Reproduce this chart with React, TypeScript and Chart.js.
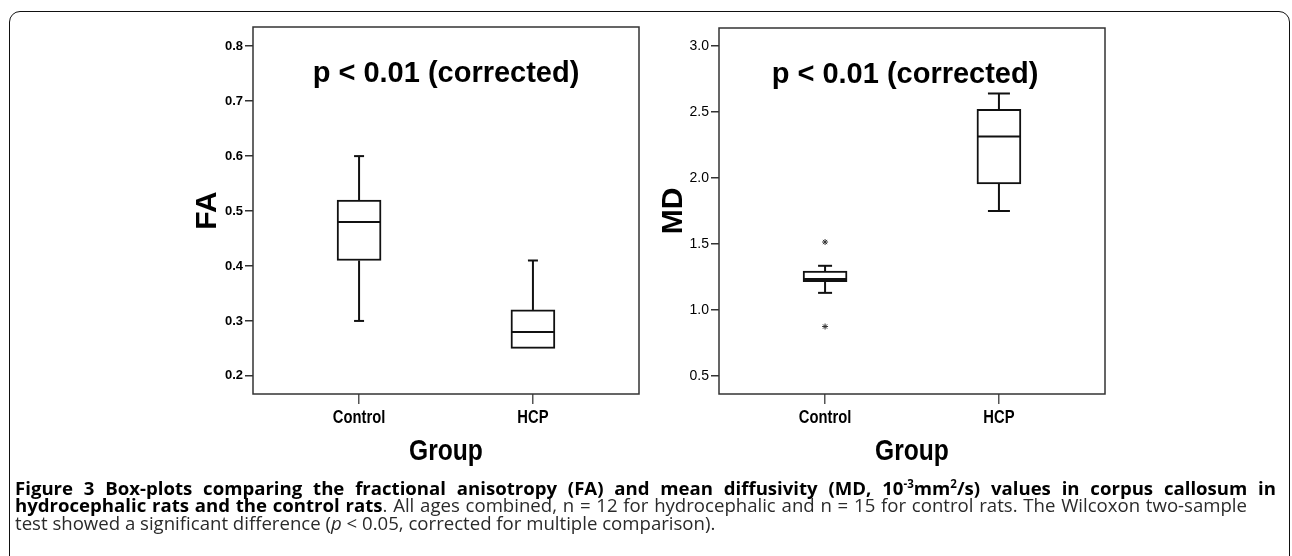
import React, { useEffect, useRef } from 'react';
import { Chart, registerables } from 'chart.js';

Chart.register(...registerables);

// ---------- data ----------
const groups = ['Control', 'HCP'];

// FA panel
const faMin = [0.30, 0.25];
const faQ1 = [0.41, 0.25];
const faMedian = [0.48, 0.28];
const faQ3 = [0.52, 0.32];
const faMax = [0.60, 0.41];
const faOutlierGroup: number[] = [];
const faOutlierValue: number[] = [];
const faTicks = [0.2, 0.3, 0.4, 0.5, 0.6, 0.7, 0.8];
const faTickLabels = ['0.2', '0.3', '0.4', '0.5', '0.6', '0.7', '0.8'];
const faRange = [0.167, 0.835];

// MD panel
const mdMin = [1.13, 1.75];
const mdQ1 = [1.215, 1.955];
const mdMedian = [1.235, 2.315];
const mdQ3 = [1.295, 2.52];
const mdMax = [1.335, 2.64];
const mdOutlierGroup = [0, 0];
const mdOutlierValue = [1.515, 0.875];
const mdTicks = [0.5, 1.0, 1.5, 2.0, 2.5, 3.0];
const mdTickLabels = ['0.5', '1.0', '1.5', '2.0', '2.5', '3.0'];
const mdRange = [0.364, 3.136];

const xRange = [-0.61, 1.61];
const noteText = 'p < 0.01 (corrected)';
const xTitle = 'Group';

const SANS = "'Liberation Sans', Arial, sans-serif";
const CONDENSE = 0.82;

type PanelCfg = {
  min: number[]; q1: number[]; median: number[]; q3: number[]; max: number[];
  outGroup: number[]; outValue: number[];
  ticks: number[]; tickLabels: string[]; range: number[];
  yTitle: string; tickFont: any; capWidth: number[]; padTop: number; noteDx: number;
};

function BoxPanel({ cfg, left, top }: { cfg: PanelCfg; left: number; top: number }) {
  const ref = useRef<HTMLCanvasElement>(null);
  useEffect(() => {
    if (!ref.current) return;
    const condensed = (ctx: any, text: string, x: number, y: number, font: string) => {
      ctx.save();
      ctx.translate(x, y);
      ctx.scale(CONDENSE, 1);
      ctx.font = font;
      ctx.fillStyle = '#000';
      ctx.textAlign = 'center';
      ctx.textBaseline = 'alphabetic';
      ctx.fillText(text, 0, 0);
      ctx.restore();
    };
    const extras = {
      id: 'boxExtras',
      afterDatasetsDraw(chart: any) {
        const { ctx, chartArea, scales } = chart;
        const x = scales.x, y = scales.y;
        const meta = chart.getDatasetMeta(0);
        ctx.save();
        ctx.strokeStyle = '#111';
        ctx.lineWidth = 2;
        ctx.lineCap = 'butt';
        const line = (x1: number, y1: number, x2: number, y2: number) => {
          ctx.beginPath(); ctx.moveTo(x1, y1); ctx.lineTo(x2, y2); ctx.stroke();
        };
        cfg.median.forEach((m, i) => {
          const el = meta.data[i];
          const half = el.width / 2;
          const px = x.getPixelForValue(i);
          const cw = cfg.capWidth[i] / 2;
          line(px - half + 1, y.getPixelForValue(m), px + half - 1, y.getPixelForValue(m));
          if (cfg.max[i] > cfg.q3[i]) {
            line(px, y.getPixelForValue(cfg.q3[i]), px, y.getPixelForValue(cfg.max[i]));
            line(px - cw, y.getPixelForValue(cfg.max[i]), px + cw, y.getPixelForValue(cfg.max[i]));
          }
          if (cfg.min[i] < cfg.q1[i]) {
            line(px, y.getPixelForValue(cfg.q1[i]), px, y.getPixelForValue(cfg.min[i]));
            line(px - cw, y.getPixelForValue(cfg.min[i]), px + cw, y.getPixelForValue(cfg.min[i]));
          }
        });
        // plot frame
        ctx.strokeStyle = '#333';
        ctx.lineWidth = 1.5;
        ctx.strokeRect(chartArea.left, chartArea.top, chartArea.right - chartArea.left, chartArea.bottom - chartArea.top);
        // annotation
        ctx.fillStyle = '#000';
        ctx.font = `bold 29px ${SANS}`;
        ctx.textAlign = 'center';
        ctx.textBaseline = 'alphabetic';
        ctx.fillText(noteText, (chartArea.left + chartArea.right) / 2 + cfg.noteDx, chartArea.top + 54.5);
        ctx.restore();
      },
      afterDraw(chart: any) {
        const { ctx, chartArea, scales } = chart;
        const x = scales.x;
        groups.forEach((g, i) => {
          condensed(ctx, g, x.getPixelForValue(i), chartArea.bottom + 29.3, `bold 18px ${SANS}`);
        });
        condensed(ctx, xTitle, (chartArea.left + chartArea.right) / 2, chartArea.bottom + 66, `bold 30px ${SANS}`);
      },
    };

    const chart = new Chart(ref.current, {
      type: 'bar',
      data: {
        datasets: [
          {
            type: 'bar',
            data: groups.map((_, i) => ({ x: i, y: [cfg.q1[i], cfg.q3[i]] })) as any,
            backgroundColor: '#ffffff',
            borderColor: '#111',
            borderWidth: 2,
            borderSkipped: false,
            barThickness: 44,
          } as any,
          {
            type: 'scatter',
            data: cfg.outGroup.map((g, i) => ({ x: g, y: cfg.outValue[i] })),
            pointStyle: 'star',
            radius: 3,
            borderColor: '#333',
            backgroundColor: '#333',
            borderWidth: 1,
          } as any,
        ],
      },
      options: {
        responsive: false,
        animation: false,
        events: [],
        layout: { padding: { top: cfg.padTop, right: 11, left: 0, bottom: 0 } },
        plugins: { legend: { display: false }, tooltip: { enabled: false } },
        scales: {
          x: {
            type: 'linear',
            offset: false,
            min: xRange[0],
            max: xRange[1],
            bounds: 'data',
            afterBuildTicks: (s: any) => { s.ticks = groups.map((_, i) => ({ value: i })); },
            afterFit: (s: any) => { s.height = 88; },
            border: { display: false },
            grid: { display: true, offset: false, drawOnChartArea: false, drawTicks: true, tickLength: 10, color: '#555', lineWidth: 1.5 },
            ticks: {
              padding: 2,
              color: 'rgba(0,0,0,0)',
              font: { family: SANS, size: 18, weight: 'bold' },
              callback: (_v: any, i: number) => groups[i],
              maxRotation: 0,
              autoSkip: false,
            },
            title: { display: false },
          },
          y: {
            type: 'linear',
            min: cfg.range[0],
            max: cfg.range[1],
            bounds: 'data',
            afterBuildTicks: (s: any) => { s.ticks = cfg.ticks.map((v) => ({ value: v })); },
            afterFit: (s: any) => { s.width = 83; },
            border: { display: false },
            grid: { display: true, drawOnChartArea: false, drawTicks: true, tickLength: 8, color: '#333', lineWidth: 1.5 },
            ticks: {
              padding: 2,
              color: '#000',
              font: cfg.tickFont,
              callback: (_v: any, i: number) => cfg.tickLabels[i],
              autoSkip: false,
            },
            title: {
              display: true,
              text: cfg.yTitle,
              color: '#000',
              font: { family: SANS, size: 30, weight: 'bold' },
              padding: { top: 20, bottom: 0 },
            },
          },
        },
      } as any,
      plugins: [extras],
    });
    return () => chart.destroy();
  }, []);
  return (
    <canvas
      ref={ref}
      width={480}
      height={470}
      style={{ position: 'absolute', left, top, width: 480, height: 470, display: 'block' }}
    />
  );
}

const faCfg: PanelCfg = {
  min: faMin, q1: faQ1, median: faMedian, q3: faQ3, max: faMax,
  outGroup: faOutlierGroup, outValue: faOutlierValue,
  ticks: faTicks, tickLabels: faTickLabels, range: faRange,
  yTitle: 'FA', tickFont: { family: SANS, size: 13, weight: 'bold' },
  capWidth: [10, 10], padTop: 15, noteDx: 0,
};

const mdCfg: PanelCfg = {
  min: mdMin, q1: mdQ1, median: mdMedian, q3: mdQ3, max: mdMax,
  outGroup: mdOutlierGroup, outValue: mdOutlierValue,
  ticks: mdTicks, tickLabels: mdTickLabels, range: mdRange,
  yTitle: 'MD', tickFont: { family: SANS, size: 14, weight: 'normal' },
  capWidth: [14, 22], padTop: 16, noteDx: -7,
};

const supStyle: React.CSSProperties = {
  fontSize: '0.62em', lineHeight: 0, position: 'relative', top: '-0.6em', verticalAlign: 'baseline',
};

export default function App() {
  return (
    <div style={{ position: 'absolute', left: 0, top: 0, width: 1292, height: 556, overflow: 'hidden', background: '#fff' }}>
      <div
        style={{
          position: 'absolute', left: 9, top: 11, width: 1281, height: 700,
          border: '1.5px solid #111', borderRadius: '11px 11px 0 0', boxSizing: 'border-box',
        }}
      />
      <BoxPanel cfg={faCfg} left={170} top={12} />
      <BoxPanel cfg={mdCfg} left={636} top={12} />
      <div
        style={{
          position: 'absolute', left: 15, top: 478.6, fontFamily: "'Open Sans', 'Noto Sans', sans-serif",
          fontSize: 18.6, lineHeight: '17.6px', color: '#2a2a2a',
        }}
      >
        <div style={{ width: 1261, textAlign: 'justify', textAlignLast: 'justify', fontWeight: 'bold', color: '#000' }}>
          Figure 3 Box-plots comparing the fractional anisotropy (FA) and mean diffusivity (MD, 10<span style={supStyle}>-3</span>mm<span style={supStyle}>2</span>/s) values in corpus callosum in
        </div>
        <div style={{ width: 1232, textAlign: 'justify', textAlignLast: 'justify' }}>
          <b style={{ color: '#000' }}>hydrocephalic rats and the control rats</b>. All ages combined, n = 12 for hydrocephalic and n = 15 for control rats. The Wilcoxon two-sample
        </div>
        <div>
          test showed a significant difference (<i>p</i> &lt; 0.05, corrected for multiple comparison).
        </div>
      </div>
    </div>
  );
}
